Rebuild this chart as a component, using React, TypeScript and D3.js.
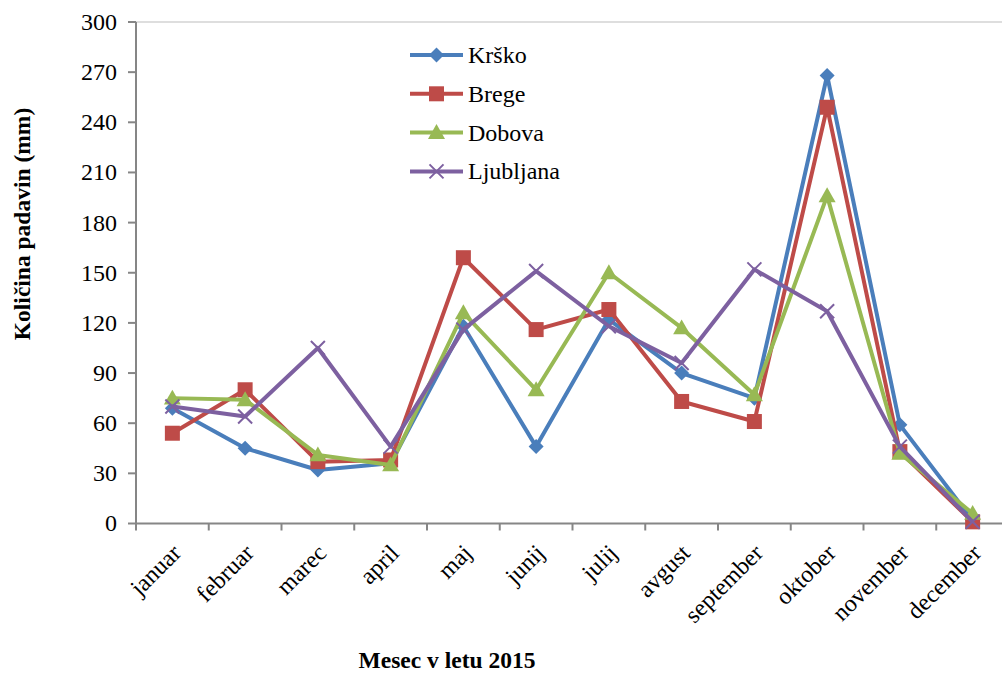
import React from "react";
import * as d3 from "d3";

const months = ["januar", "februar", "marec", "april", "maj", "junij", "julij", "avgust", "september", "oktober", "november", "december"];
const krsko = [69, 45, 32, 36, 118, 46, 122, 90, 75, 268, 59, 2];
const brege = [54, 80, 37, 38, 159, 116, 128, 73, 61, 249, 43, 1];
const dobova = [75, 74, 41, 35, 126, 80, 150, 117, 77, 196, 42, 6];
const ljubljana = [70, 64, 105, 46, 116, 151, 118, 96, 152, 127, 46, 1];
const yTicks = [0, 30, 60, 90, 120, 150, 180, 210, 240, 270, 300];

const series = [
  { name: "Krško", values: krsko, color: "#4A7EBB", marker: "diamond" },
  { name: "Brege", values: brege, color: "#BE4B48", marker: "square" },
  { name: "Dobova", values: dobova, color: "#98B954", marker: "triangle" },
  { name: "Ljubljana", values: ljubljana, color: "#7D60A0", marker: "x" },
];

const W = 1002, H = 673;
const left = 136, top = 22, bottom = 523.5;
const band = 72.75;
const x = d3.scaleBand<string>().domain(months).range([left, left + band * months.length]).paddingInner(0).paddingOuter(0);
const y = d3.scaleLinear().domain([0, 300]).range([bottom, top]);
const font = "Liberation Serif";

function Marker({ type, cx, cy, color }: { type: string; cx: number; cy: number; color: string }) {
  if (type === "diamond") {
    const s = 7.5;
    return <path d={`M${cx},${cy - s}L${cx + s},${cy}L${cx},${cy + s}L${cx - s},${cy}Z`} fill={color} />;
  }
  if (type === "square") {
    const s = 7.5;
    return <rect x={cx - s} y={cy - s} width={2 * s} height={2 * s} fill={color} />;
  }
  if (type === "triangle") {
    const s = 8.5;
    return <path d={`M${cx},${cy - s}L${cx + s},${cy + s * 0.75}L${cx - s},${cy + s * 0.75}Z`} fill={color} />;
  }
  const s = 7;
  return (
    <path d={`M${cx - s},${cy - s}L${cx + s},${cy + s}M${cx - s},${cy + s}L${cx + s},${cy - s}`} stroke={color} strokeWidth={2} fill="none" />
  );
}

export default function App() {
  const cx = (m: string) => (x(m) as number) + x.bandwidth() / 2;
  const line = d3.line<number>().x((_, i) => cx(months[i])).y((v) => y(v));
  return (
    <svg width={W} height={H} style={{ position: "absolute", left: 0, top: 0, background: "#fff", fontFamily: font }}>
      <line x1={left} x2={W} y1={y(300)} y2={y(300)} stroke="#BDBDBD" strokeWidth={1} />
      <line x1={left} x2={left} y1={top} y2={bottom} stroke="#868686" strokeWidth={2} />
      <line x1={left - 1} x2={W} y1={bottom} y2={bottom} stroke="#868686" strokeWidth={2} />
      {yTicks.map((t) => (
        <g key={t}>
          <line x1={left - 8} x2={left} y1={y(t)} y2={y(t)} stroke="#868686" strokeWidth={2} />
          <text x={left - 19} y={y(t)} dy="0.33em" textAnchor="end" fontSize={24} fill="#000" style={{ fontFamily: font }}>{t}</text>
        </g>
      ))}
      {d3.range(months.length + 1).map((i) => (
        <line key={i} x1={left + i * band} x2={left + i * band} y1={bottom} y2={bottom + 7} stroke="#868686" strokeWidth={2} />
      ))}
      {months.map((m) => (
        <text key={m} transform={`translate(${cx(m) + 4},${bottom + 25}) rotate(-45)`} textAnchor="end" dy="0.35em" fontSize={24} fill="#000" style={{ fontFamily: font }}>{m}</text>
      ))}
      {series.map((s) => (
        <g key={s.name}>
          <path d={line(s.values) || ""} fill="none" stroke={s.color} strokeWidth={4} strokeLinejoin="round" />
          {s.values.map((v, i) => (
            <Marker key={i} type={s.marker} cx={cx(months[i])} cy={y(v)} color={s.color} />
          ))}
        </g>
      ))}
      {series.map((s, i) => {
        const ly = 55 + i * 38.8;
        return (
          <g key={s.name}>
            <line x1={410} x2={463} y1={ly} y2={ly} stroke={s.color} strokeWidth={4} />
            <Marker type={s.marker} cx={436.5} cy={ly} color={s.color} />
            <text x={468} y={ly} dy="0.33em" fontSize={24} fill="#000" style={{ fontFamily: font }}>{s.name}</text>
          </g>
        );
      })}
      <text transform={`translate(30,224) rotate(-90)`} textAnchor="middle" fontSize={23.5} fontWeight="bold" fill="#000" style={{ fontFamily: font }}>Količina padavin (mm)</text>
      <text x={447} y={668} textAnchor="middle" fontSize={23.5} fontWeight="bold" fill="#000" style={{ fontFamily: font }}>Mesec v letu 2015</text>
    </svg>
  );
}
